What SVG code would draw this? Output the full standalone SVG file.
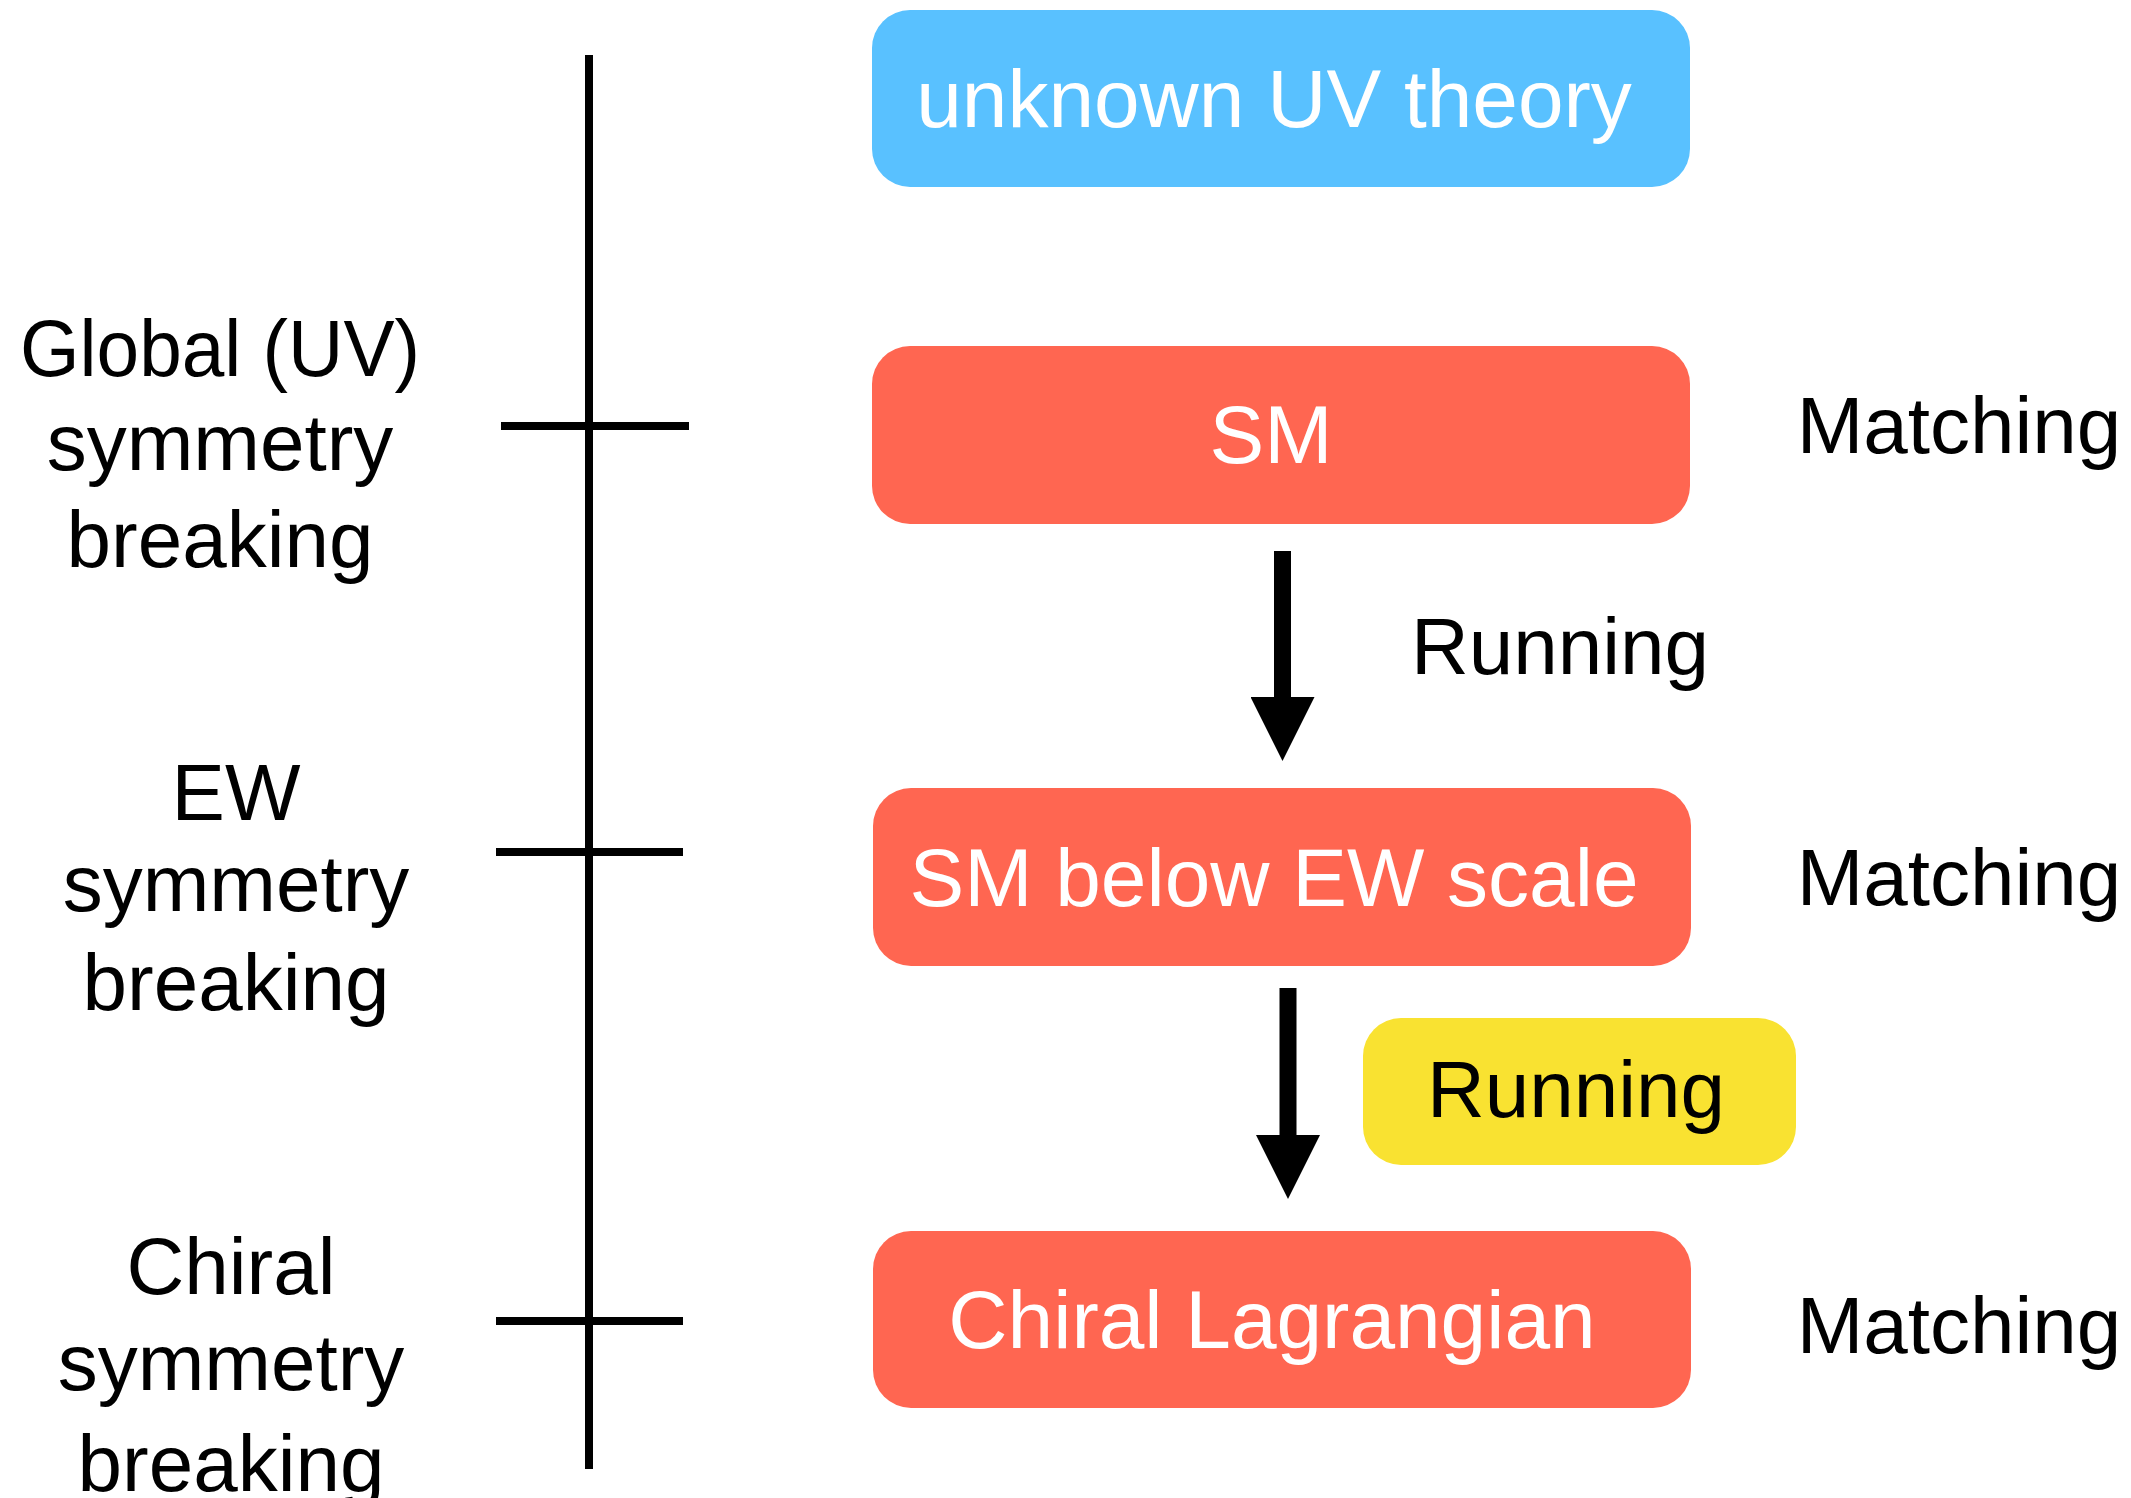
<svg xmlns="http://www.w3.org/2000/svg" width="2131" height="1498" viewBox="0 0 2131 1498">
  <style>
    .lbl { font-family: "Liberation Sans", Arial, Helvetica, sans-serif; font-size: 80px; fill: #000; text-anchor: middle; }
    .ntxt { font-family: "Liberation Sans", Arial, Helvetica, sans-serif; font-size: 82px; fill: #fff; text-anchor: middle; }
    .red { fill: #FF6651; }
    .axis { stroke: #000; stroke-width: 8; fill: none; }
    .flow { stroke: #000; stroke-width: 17; fill: none; }
  </style>
  <defs>
    <marker id="head" markerUnits="userSpaceOnUse" viewBox="0 0 64 64" markerWidth="64" markerHeight="64" refX="14" refY="32" orient="auto">
      <path d="M0,0 L64,32 L0,64 z" fill="#000"/>
    </marker>
  </defs>
  <rect width="2131" height="1498" fill="#fff"/>

  <g id="scale-axis">
    <line class="axis" x1="589" y1="55" x2="589" y2="1469"/>
    <line class="axis" x1="501" y1="426" x2="689" y2="426"/>
    <line class="axis" x1="496" y1="852" x2="683" y2="852"/>
    <line class="axis" x1="496" y1="1321" x2="683" y2="1321"/>
  </g>

  <g id="label-global">
    <text class="lbl" x="220" y="376" textLength="400" lengthAdjust="spacingAndGlyphs">Global (UV)</text>
    <text class="lbl" x="220" y="470">symmetry</text>
    <text class="lbl" x="220" y="567">breaking</text>
  </g>
  <g id="label-ew">
    <text class="lbl" x="236" y="820">EW</text>
    <text class="lbl" x="236" y="911">symmetry</text>
    <text class="lbl" x="236" y="1010">breaking</text>
  </g>
  <g id="label-chiral">
    <text class="lbl" x="231" y="1294">Chiral</text>
    <text class="lbl" x="231" y="1390">symmetry</text>
    <text class="lbl" x="231" y="1491">breaking</text>
  </g>

  <g id="node-uv">
    <rect x="872" y="10" width="818" height="177" rx="38" ry="38" fill="#59C1FF"/>
    <text class="ntxt" x="1274" y="127">unknown UV theory</text>
  </g>
  <g id="node-sm">
    <rect class="red" x="872" y="346" width="818" height="178" rx="38" ry="38"/>
    <text class="ntxt" x="1271" y="463">SM</text>
  </g>
  <g id="node-sm-ew">
    <rect class="red" x="873" y="788" width="818" height="178" rx="38" ry="38"/>
    <text class="ntxt" x="1274" y="906">SM below EW scale</text>
  </g>
  <g id="node-chiral">
    <rect class="red" x="873" y="1231" width="818" height="177" rx="38" ry="38"/>
    <text class="ntxt" x="1272" y="1348">Chiral Lagrangian</text>
  </g>
  <g id="node-running-2">
    <rect x="1363" y="1018" width="433" height="147" rx="38" ry="38" fill="#F9E231"/>
    <text class="lbl" x="1576" y="1117">Running</text>
  </g>

  <g id="label-running-1">
    <text class="lbl" x="1560" y="674">Running</text>
  </g>
  <g id="label-matching">
    <text class="lbl" x="1959" y="453">Matching</text>
    <text class="lbl" x="1959" y="905">Matching</text>
    <text class="lbl" x="1959" y="1353">Matching</text>
  </g>

  <g id="connectors">
    <line class="flow" x1="1282.5" y1="551" x2="1282.5" y2="711" marker-end="url(#head)"/>
    <line class="flow" x1="1288" y1="988" x2="1288" y2="1149" marker-end="url(#head)"/>
  </g>
</svg>
